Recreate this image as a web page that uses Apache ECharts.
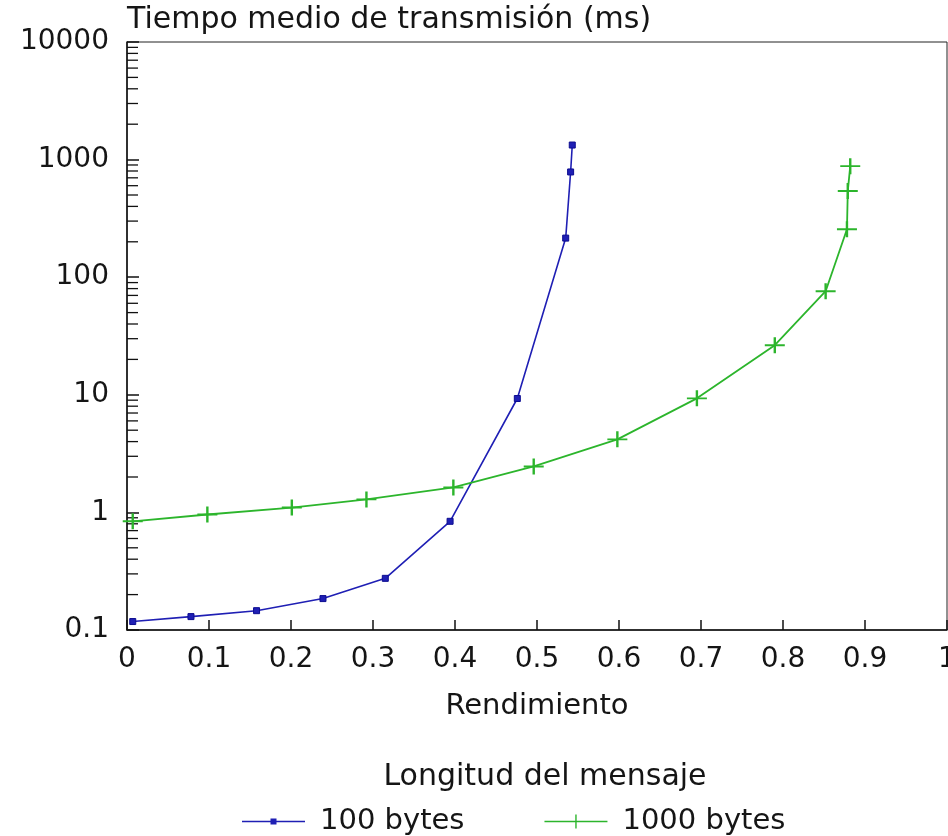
<!DOCTYPE html>
<html>
<head>
<meta charset="utf-8">
<script src="https://cdn.jsdelivr.net/npm/echarts@6/dist/echarts.min.js"></script>
<style>html,body{margin:0;padding:0;background:#fff;overflow:hidden;width:948px;height:836px}#c{width:948px;height:836px}</style>
</head>
<body>
<div id="c"></div>
<script>
// Data
var seriesNames = ['100 bytes', '1000 bytes'];
var x100 = [0.007, 0.078, 0.158, 0.239, 0.315, 0.394, 0.476, 0.535, 0.541, 0.543];
var y100 = [0.118, 0.130, 0.146, 0.185, 0.275, 0.84, 9.3, 215, 785, 1330];
var x1000 = [0.007, 0.098, 0.201, 0.292, 0.398, 0.496, 0.598, 0.695, 0.790, 0.852, 0.878, 0.879, 0.882];
var y1000 = [0.84, 0.96, 1.10, 1.29, 1.63, 2.46, 4.18, 9.33, 26.4, 76, 256, 540, 880];
var yMinorTicks = [0.2,0.3,0.4,0.5,0.6,0.7,0.8,0.9, 2,3,4,5,6,7,8,9, 20,30,40,50,60,70,80,90,
                   200,300,400,500,600,700,800,900, 2000,3000,4000,5000,6000,7000,8000,9000];
var xTitle = 'Rendimiento';
var yTitle = 'Tiempo medio de transmisión (ms)';
var legendTitle = 'Longitud del mensaje';

function pairs(xs, ys) { return xs.map(function (x, i) { return [x, ys[i]]; }); }

var FONT = 'DejaVu Sans';
var TXT = '#151515';
var blue = '#1f1fb4';
var green = '#2cb52c';
var plusPath = 'path://M0,4.4H10V5.6H0Z M4.4,0H5.6V10H4.4Z';
// legend icons: 63x14 boxes (tiny corner dots fix the bounding box)
var corners = 'M0,0H0.01V0.01H0Z M62.99,13.99H63V14H62.99Z ';
var blueIcon = 'path://' + corners + 'M0,6.3H63V7.7H0Z M28.5,4H34.5V10H28.5Z';
var greenIcon = 'path://' + corners + 'M0,6.3H63V7.7H0Z M30.8,0H32.2V14H30.8Z';

var chart = echarts.init(document.getElementById('c'), null, { width: 948, height: 836 });
chart.setOption({
  animation: false,
  backgroundColor: '#fff',
  title: {
    text: legendTitle,
    left: 540, top: 757, textAlign: 'center',
    textStyle: { fontFamily: FONT, fontSize: 30, fontWeight: 'normal', color: TXT }
  },
  legend: {
    data: [{ name: seriesNames[0], icon: blueIcon }, { name: seriesNames[1], icon: greenIcon }],
    left: 242, top: 807,
    itemWidth: 63, itemHeight: 14, itemGap: 80,
    symbolKeepAspect: false,
    itemStyle: { borderWidth: 0 },
    padding: 0,
    textStyle: { fontFamily: FONT, fontSize: 29, color: TXT, padding: [0, 0, 0, 10] }
  },
  grid: {
    left: 127, top: 42, right: 1, bottom: 206,
    outerBoundsMode: 'none',
    show: true, borderColor: '#222', borderWidth: 1, containLabel: false
  },
  xAxis: {
    type: 'value', min: 0, max: 1, interval: 0.1,
    name: xTitle, nameLocation: 'middle', nameGap: 62,
    nameTextStyle: { fontFamily: FONT, fontSize: 29, color: TXT },
    axisLine: { show: true, lineStyle: { color: '#111', width: 1.5 } },
    axisTick: { show: true, inside: true, length: 10, lineStyle: { color: '#111', width: 1.5 } },
    splitLine: { show: false },
    axisLabel: { fontFamily: FONT, fontSize: 28, color: TXT, margin: 16,
      formatter: function (v) { return String(Math.round(v * 10) / 10); } }
  },
  yAxis: {
    type: 'log', logBase: 10, min: 0.1, max: 10000,
    name: yTitle, nameLocation: 'end', nameGap: 7,
    nameTextStyle: { fontFamily: FONT, fontSize: 30, color: TXT, align: 'left', verticalAlign: 'bottom' },
    axisLine: { show: true, lineStyle: { color: '#111', width: 1.5 } },
    axisTick: { show: true, inside: true, length: 12, lineStyle: { color: '#111', width: 1.5 } },
    splitLine: { show: false },
    axisLabel: { fontFamily: FONT, fontSize: 28, color: TXT, margin: 18,
      formatter: function (v) { return String(Number(v.toPrecision(6))); } }
  },
  series: [
    {
      name: seriesNames[0], type: 'line', data: pairs(x100, y100),
      symbol: 'rect', symbolSize: 6,
      lineStyle: { color: blue, width: 1.6 },
      itemStyle: { color: blue, borderColor: '#0c0c90', borderWidth: 1 }
    },
    {
      name: seriesNames[1], type: 'line', data: pairs(x1000, y1000),
      symbol: plusPath, symbolSize: [20, 16], symbolKeepAspect: false,
      lineStyle: { color: green, width: 1.8 },
      itemStyle: { color: green }
    },
    {
      name: 'minorTicks', type: 'custom', silent: true, clip: false,
      data: yMinorTicks.map(function (v) { return [0, v]; }),
      renderItem: function (params, api) {
        var p = api.coord([api.value(0), api.value(1)]);
        return { type: 'line', shape: { x1: p[0], y1: p[1], x2: p[0] + 11, y2: p[1] },
                 style: { stroke: '#111', lineWidth: 1.3 } };
      }
    }
  ]
});
</script>
</body>
</html>
